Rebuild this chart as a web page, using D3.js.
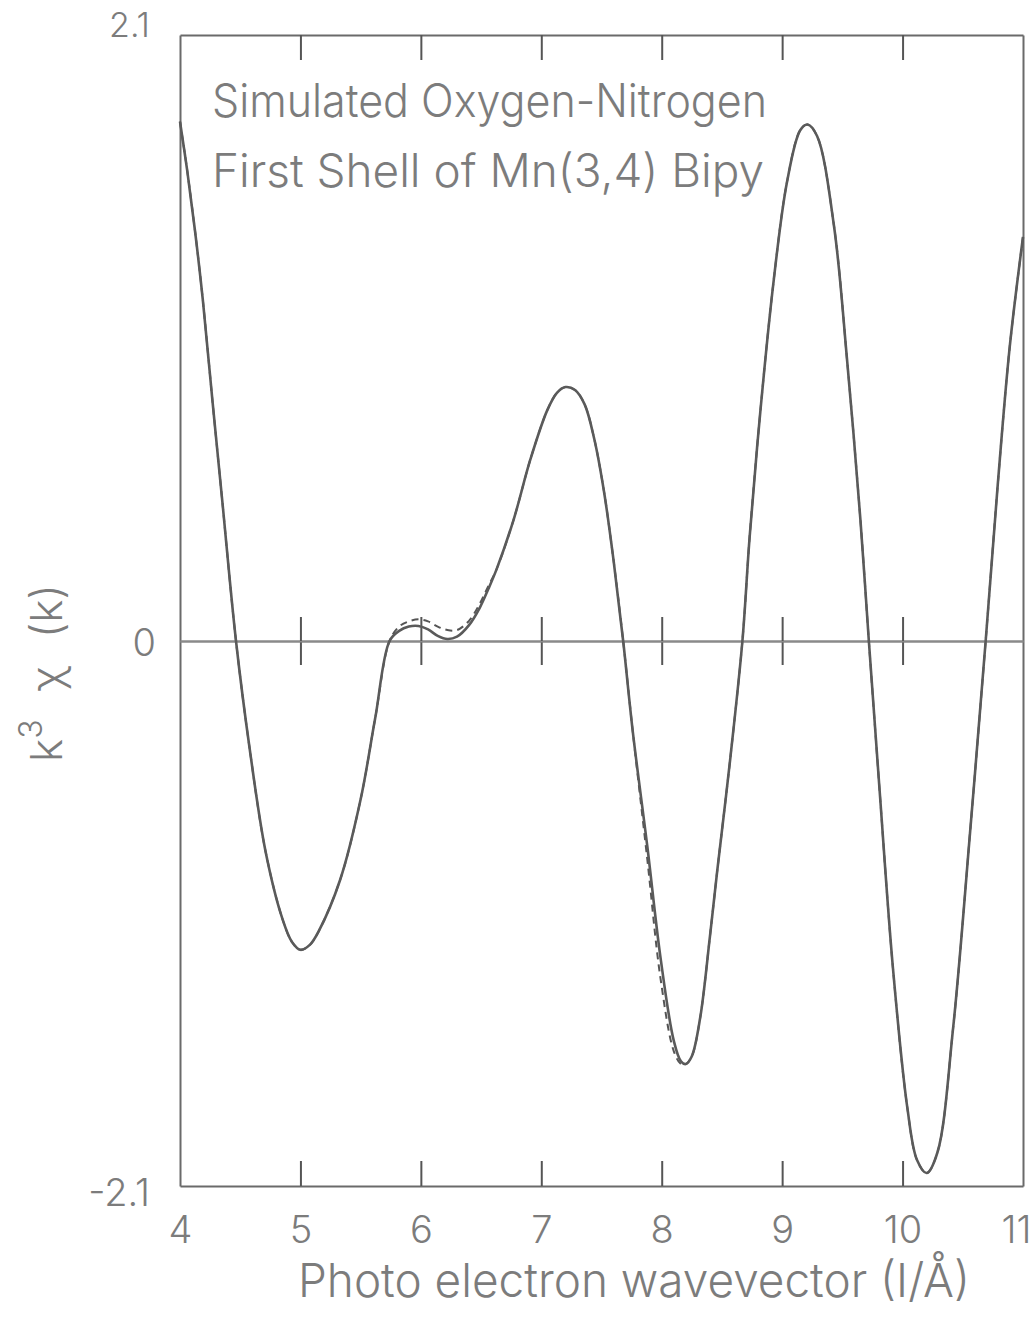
<!DOCTYPE html>
<html>
<head>
<meta charset="utf-8">
<script src="https://cdn.jsdelivr.net/npm/d3@7"></script>
<style>
  html, body { margin: 0; padding: 0; background: #fff; }
  svg { display: block; }
  text { font-family: "Inter", "DejaVu Sans", sans-serif; font-weight: 300; fill: #7c7c7c; }
</style>
</head>
<body>
<svg id="chart" width="1034" height="1317"></svg>
<script>
// ---- data ----
const kValues = [4.0, 4.06, 4.125, 4.19, 4.27, 4.35, 4.465, 4.58, 4.71, 4.85, 4.93, 5.0, 5.08, 5.15, 5.33, 5.5, 5.62, 5.74,
  5.82, 5.9, 5.98, 6.06, 6.14, 6.22, 6.3, 6.4, 6.49, 6.56, 6.63, 6.77, 6.91, 7.05, 7.13, 7.2, 7.28, 7.36, 7.44, 7.52, 7.6, 7.68,
  7.76, 7.88, 7.99, 8.1, 8.16, 8.2, 8.25, 8.32, 8.4, 8.46, 8.57, 8.67, 8.73, 8.82, 8.93, 9.04, 9.15, 9.21, 9.29, 9.43,
  9.54, 9.65, 9.72, 9.81, 9.92, 10.04, 10.12, 10.2, 10.29, 10.42, 10.56, 10.69, 10.79, 10.89, 11.0];

const solidValues = [1.80, 1.63, 1.42, 1.18, 0.83, 0.49, 0.0, -0.42, -0.81, -1.07, -1.16, -1.19, -1.17, -1.12, -0.92, -0.61, -0.30, 0.0,
  0.035, 0.05, 0.052, 0.04, 0.018, 0.007, 0.015, 0.055, 0.116, 0.18, 0.25, 0.42, 0.63, 0.80, 0.86, 0.88, 0.87, 0.82, 0.70, 0.52, 0.28, 0.0,
  -0.35, -0.79, -1.22, -1.54, -1.62, -1.63, -1.60, -1.45, -1.14, -0.89, -0.45, 0.0, 0.36, 0.80, 1.25, 1.59, 1.77, 1.79, 1.75, 1.44,
  0.97, 0.42, 0.0, -0.58, -1.26, -1.80, -2.00, -2.05, -1.97, -1.49, -0.74, 0.0, 0.54, 1.02, 1.40];

const dashedValues = [1.80, 1.63, 1.42, 1.18, 0.83, 0.49, 0.0, -0.42, -0.81, -1.07, -1.16, -1.19, -1.17, -1.12, -0.92, -0.61, -0.30, 0.0,
  0.05, 0.068, 0.075, 0.068, 0.05, 0.038, 0.038, 0.07, 0.13, 0.19, 0.25, 0.42, 0.63, 0.80, 0.86, 0.88, 0.87, 0.82, 0.70, 0.52, 0.28, 0.0,
  -0.35, -0.84, -1.30, -1.58, -1.63, -1.63, -1.60, -1.45, -1.14, -0.89, -0.45, 0.0, 0.36, 0.80, 1.25, 1.59, 1.77, 1.79, 1.75, 1.44,
  0.97, 0.42, 0.0, -0.58, -1.26, -1.80, -2.00, -2.05, -1.97, -1.49, -0.74, 0.0, 0.54, 1.02, 1.40];

const xTickLabels = [4, 5, 6, 7, 8, 9, 10, 11];
const xInnerTicks = [5, 6, 7, 8, 9, 10];
const yTickLabels = [2.1, 0, -2.1];
const titleLines = ["Simulated Oxygen-Nitrogen", "First Shell of Mn(3,4) Bipy"];
const xAxisTitle = "Photo electron wavevector (I/Å)";

// ---- layout ----
const svg = d3.select("#chart");
const plotLeft = 180, plotRight = 1023, plotTop = 35, plotBottom = 1186, plotZeroY = 641;

const x = d3.scaleLinear().domain([4, 11]).range([plotLeft, plotRight]);
const y = d3.scaleLinear().domain([-2.1, 0, 2.1]).range([plotBottom, plotZeroY, plotTop]);

const frameColor = "#6a6a6a";

function styleAxis(g) {
  g.selectAll("path.domain").attr("stroke", frameColor).attr("stroke-width", 2);
  g.selectAll(".tick line").attr("stroke", "#555").attr("stroke-width", 2);
  g.selectAll(".tick text").remove();
}

// top axis (ticks pointing inward)
svg.append("g").attr("transform", `translate(0,${plotTop})`)
  .call(d3.axisTop(x).tickValues(xInnerTicks).tickSizeInner(-25).tickSizeOuter(0).tickFormat(""))
  .call(styleAxis);
// bottom axis
svg.append("g").attr("transform", `translate(0,${plotBottom})`)
  .call(d3.axisBottom(x).tickValues(xInnerTicks).tickSizeInner(-25).tickSizeOuter(0).tickFormat(""))
  .call(styleAxis);
// left / right
svg.append("g").attr("transform", `translate(${plotLeft},0)`)
  .call(d3.axisLeft(y).tickValues([]).tickSizeOuter(0))
  .call(styleAxis);
svg.append("g").attr("transform", `translate(${plotRight},0)`)
  .call(d3.axisRight(y).tickValues([]).tickSizeOuter(0))
  .call(styleAxis);

// zero line with ticks crossing both ways
svg.append("g").attr("transform", `translate(0,${y(0)})`)
  .call(d3.axisBottom(x).tickValues(xInnerTicks).tickSizeInner(24).tickSizeOuter(0).tickFormat(""))
  .call(styleAxis)
  .call(g => g.select("path.domain").attr("stroke", "#8a8a8a"));
svg.append("g").attr("transform", `translate(0,${y(0)})`)
  .call(d3.axisTop(x).tickValues(xInnerTicks).tickSizeInner(24).tickSizeOuter(0).tickFormat(""))
  .call(styleAxis)
  .call(g => g.select("path.domain").attr("stroke", "#8a8a8a"));

// x tick labels
svg.append("g").attr("transform", `translate(0,${plotBottom})`)
  .call(d3.axisBottom(x).tickValues(xTickLabels).tickSize(0).tickPadding(0).tickFormat(d => String(d)))
  .call(g => g.select("path.domain").remove())
  .call(g => g.selectAll(".tick text")
    .attr("y", 57).attr("dy", null)
    .attr("text-anchor", d => d === 11 ? "end" : "middle")
    .attr("x", d => d === 11 ? 8 : 0)
    .style("font-size", "38px").attr("fill", null));

// y tick labels
const yLabelOffset = { "2.1": 1, "0": 14, "-2.1": 19 };
svg.append("g").attr("transform", `translate(${plotLeft},0)`)
  .call(d3.axisLeft(y).tickValues(yTickLabels).tickSize(0).tickPadding(0)
    .tickFormat(d => d === 0 ? "0" : (d < 0 ? "-" : "") + Math.abs(d).toFixed(1)))
  .call(g => g.select("path.domain").remove())
  .call(g => g.selectAll(".tick text")
    .attr("x", d => d === 0 ? -24 : -30)
    .attr("dy", null)
    .attr("y", d => yLabelOffset[String(d)])
    .style("font-size", d => d === 2.1 ? "34px" : "38px").attr("fill", null));

// curves
const line = d3.line()
  .x(d => x(d[0]))
  .y(d => y(d[1]))
  .curve(d3.curveCatmullRom.alpha(0.5));

svg.append("path")
  .datum(kValues.map((k, i) => [k, dashedValues[i]]))
  .attr("d", line)
  .attr("fill", "none")
  .attr("stroke", "#555")
  .attr("stroke-width", 2)
  .attr("stroke-dasharray", "7,5");

svg.append("path")
  .datum(kValues.map((k, i) => [k, solidValues[i]]))
  .attr("d", line)
  .attr("fill", "none")
  .attr("stroke", "#5a5a5a")
  .attr("stroke-width", 2.6);

// annotation
svg.append("text").attr("x", 212).attr("y", 117)
  .attr("textLength", 555).attr("lengthAdjust", "spacingAndGlyphs")
  .style("font-size", "46px").text(titleLines[0]);
svg.append("text").attr("x", 212).attr("y", 187)
  .attr("textLength", 552).attr("lengthAdjust", "spacingAndGlyphs")
  .style("font-size", "46px").text(titleLines[1]);

// x axis title
svg.append("text").attr("x", 298).attr("y", 1297)
  .attr("textLength", 672).attr("lengthAdjust", "spacingAndGlyphs")
  .style("font-size", "47px").text(xAxisTitle);

// y axis title
const yt = svg.append("text")
  .attr("transform", "translate(62,762) rotate(-90)")
  .attr("text-anchor", "start")
  .style("font-size", "44px")
  .style("word-spacing", "16px");
yt.append("tspan").text("k");
yt.append("tspan").attr("dy", -20).style("font-size", "32px").text("3");
yt.append("tspan").attr("dy", 20).text(" χ (k)");
</script>
</body>
</html>
